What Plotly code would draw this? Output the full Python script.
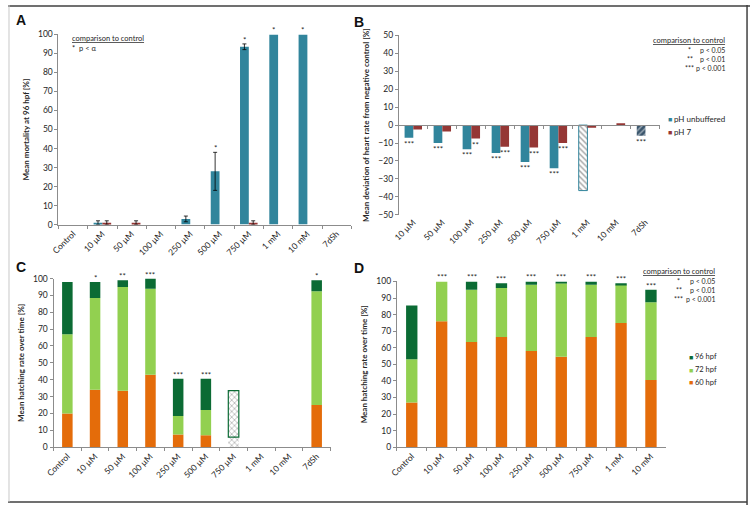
import plotly.graph_objects as go

W, H = 750, 510

# ---------------- data ----------------
catsA = ["Control", "10 µM", "50 µM", "100 µM", "250 µM", "500 µM", "750 µM", "1 mM", "10 mM", "7dSh"]
mortUnbuf = [0, 1, 0, 0, 3, 28, 93.5, 100, 100, 0]
mortUnbufErr = [None, 1, None, None, 1.5, 10, 1.5, None, None, None]
mortPH7 = [0, 1, 1, 0, 0, 0, 1, 0, 0, 0]
mortPH7Err = [None, 1, 1, None, None, None, 1, None, None, None]
sigA = ["", "", "", "", "", "*", "*", "*", "*", ""]

catsB = ["10 µM", "50 µM", "100 µM", "250 µM", "500 µM", "750 µM", "1 mM", "10 mM", "7dSh"]
hrUnbuf = [-7, -10, -13.5, -15.5, -20.5, -24, -36.5, 0, -6]
hrPH7 = [-2.5, -3.5, -7.5, -12, -12.5, -10, -1.5, 1, 0]
sigBUnbuf = ["***", "***", "***", "***", "***", "***", "", "", "***"]
sigBPH7 = ["", "", "**", "***", "***", "***", "", "", ""]

catsC = ["Control", "10 µM", "50 µM", "100 µM", "250 µM", "500 µM", "750 µM", "1 mM", "10 mM", "7dSh"]
hatchC60 = [20, 34, 33.5, 43, 7.5, 7, 0, 0, 0, 25]
hatchC72 = [47, 54.5, 61.5, 51, 11, 15, 6, 0, 0, 67.5]
hatchC96 = [31, 9.5, 4, 6, 22, 18.5, 27.5, 0, 0, 6.5]
sigC = ["", "*", "**", "***", "***", "***", "", "", "", "*"]

catsD = ["Control", "10 µM", "50 µM", "100 µM", "250 µM", "500 µM", "750 µM", "1 mM", "10 mM"]
hatchD60 = [27, 76, 63.5, 66.5, 58, 54.5, 66.5, 75, 40.5]
hatchD72 = [26, 24, 31.5, 29.5, 40, 44.5, 31.5, 23, 47]
hatchD96 = [32.5, 0, 5, 3, 2, 1, 2, 1, 7.5]
sigD = ["", "***", "***", "***", "***", "***", "***", "***", "***"]

# ---------------- style ----------------
FONT = "Lato"
TXT = "#262626"
AXC = "#8c8c8c"
BLUE = "#31859C"
RED = "#953735"
ORANGE = "#E46C0A"
LGREEN = "#92D050"
DGREEN = "#0B6B34"


def px(x):
    return x / W


def py(y):
    return 1 - y / H


domA = dict(x=[px(51), px(347)], y=[py(224), py(30)])
domB = dict(x=[px(395), px(659)], y=[py(214), py(31)])
domC = dict(x=[px(46), px(326)], y=[py(451), py(279)])
domD = dict(x=[px(393), px(665)], y=[py(451), py(282)])

fig = go.Figure()

GW = 0.3    # grouped bar width (category units)
SW = 0.38   # stacked bar width

# ---- A ----
fig.add_trace(go.Bar(x=catsA, y=mortUnbuf, marker=dict(color=BLUE, line=dict(width=0)), xaxis="x", yaxis="y",
                     width=GW, offset=-GW, name="pH unbuffered"))
fig.add_trace(go.Bar(x=catsA, y=mortPH7, marker=dict(color=RED, line=dict(width=0)), xaxis="x", yaxis="y",
                     width=GW, offset=0, name="pH 7"))
# error bars only where an error exists (transparent carrier bars)
for vals, errs, off in [(mortUnbuf, mortUnbufErr, -GW), (mortPH7, mortPH7Err, 0)]:
    idx = [i for i, e in enumerate(errs) if e is not None]
    fig.add_trace(go.Bar(x=[catsA[i] for i in idx], y=[vals[i] for i in idx], xaxis="x", yaxis="y",
                         width=GW, offset=off, marker=dict(color="rgba(0,0,0,0)", line=dict(width=0)),
                         hoverinfo="skip",
                         error_y=dict(type="data", array=[errs[i] for i in idx], color="#000",
                                      thickness=0.8, width=2)))

# ---- B ----
patB_shape = ["", "", "", "", "", "", "\\", "", "/"]
patB_fg = ["#fff"] * 6 + ["#8fc3d3", "#fff", "#9fb6c8"]
patB_bg = [BLUE] * 6 + ["#ffffff", BLUE, "#3b566d"]
lineB_w = [0] * 6 + [1, 0, 0]
fig.add_trace(go.Bar(x=catsB, y=hrUnbuf, xaxis="x2", yaxis="y2", name="pH unbuffered",
                     width=GW, offset=-GW,
                     marker=dict(color=patB_bg, line=dict(color=BLUE, width=lineB_w),
                                 pattern=dict(shape=patB_shape, fgcolor=patB_fg, bgcolor=patB_bg,
                                              size=4, solidity=0.35))))
fig.add_trace(go.Bar(x=catsB, y=hrPH7, marker=dict(color=RED, line=dict(width=0)), xaxis="x2", yaxis="y2",
                     name="pH 7", width=GW, offset=0))
# invisible trace carrying the zero-line category axis
fig.add_trace(go.Scatter(x=catsB, y=[None] * len(catsB), xaxis="x5", yaxis="y2",
                         mode="markers", hoverinfo="skip"))

# ---- C (stacked via explicit base) ----
baseC72 = hatchC60
baseC96 = [a + b for a, b in zip(hatchC60, hatchC72)]
patC_shape = [""] * 6 + ["x", "", "", ""]
fig.add_trace(go.Bar(x=catsC, y=hatchC60, marker=dict(color=ORANGE, line=dict(width=0)), xaxis="x3", yaxis="y3",
                     width=SW, offset=-SW / 2, name="60 hpf"))
fig.add_trace(go.Bar(x=catsC, y=hatchC72, base=baseC72, xaxis="x3", yaxis="y3", name="72 hpf",
                     width=SW, offset=-SW / 2,
                     marker=dict(color=[LGREEN] * 6 + ["#fff"] + [LGREEN] * 3,
                                 line=dict(width=0),
                                 pattern=dict(shape=patC_shape, fgcolor=LGREEN,
                                              bgcolor=[LGREEN] * 6 + ["#fff"] + [LGREEN] * 3,
                                              size=4, solidity=0.3))))
fig.add_trace(go.Bar(x=catsC, y=hatchC96, base=baseC96, xaxis="x3", yaxis="y3", name="96 hpf",
                     width=SW, offset=-SW / 2,
                     marker=dict(color=[DGREEN] * 6 + ["#fff"] + [DGREEN] * 3,
                                 line=dict(color=DGREEN, width=[0] * 6 + [1.2] + [0] * 3),
                                 pattern=dict(shape=patC_shape, fgcolor=DGREEN,
                                              bgcolor=[DGREEN] * 6 + ["#fff"] + [DGREEN] * 3,
                                              size=4, solidity=0.3))))

# ---- D (stacked via explicit base) ----
baseD72 = hatchD60
baseD96 = [a + b for a, b in zip(hatchD60, hatchD72)]
fig.add_trace(go.Bar(x=catsD, y=hatchD60, marker=dict(color=ORANGE, line=dict(width=0)), xaxis="x4", yaxis="y4",
                     width=SW, offset=-SW / 2, name="60 hpf"))
fig.add_trace(go.Bar(x=catsD, y=hatchD72, base=baseD72, marker=dict(color=LGREEN, line=dict(width=0)),
                     xaxis="x4", yaxis="y4", width=SW, offset=-SW / 2, name="72 hpf"))
fig.add_trace(go.Bar(x=catsD, y=hatchD96, base=baseD96, marker=dict(color=DGREEN, line=dict(width=0)),
                     xaxis="x4", yaxis="y4", width=SW, offset=-SW / 2, name="96 hpf"))

tickfont = dict(family=FONT, size=8.5, color=TXT)


def xcat(dom, anchor, n):
    return dict(domain=dom, anchor=anchor, type="category", showline=True, linecolor=AXC,
                linewidth=1, ticks="outside", ticklen=3, tickcolor=AXC, tickson="boundaries",
                tickangle=-45, tickfont=tickfont, showgrid=False, zeroline=False,
                range=[-0.5, n - 0.5], fixedrange=True)


def yval(dom, anchor, rng, title, standoff):
    return dict(domain=dom, anchor=anchor, range=rng, dtick=10, showline=True, linecolor=AXC,
                linewidth=1, ticks="outside", ticklen=3, tickcolor=AXC, tickfont=tickfont,
                showgrid=False, zeroline=False, fixedrange=True,
                title=dict(text="<b>" + title + "</b>", font=dict(family=FONT, size=8, color=TXT),
                           standoff=standoff))


layout = dict(
    width=W, height=H, autosize=False, margin=dict(l=0, r=0, t=0, b=0),
    paper_bgcolor="white", plot_bgcolor="white", barmode="group",
    font=dict(family=FONT, color=TXT), showlegend=False,
    xaxis=dict(xcat(domA["x"], "y", len(catsA))),
    yaxis=yval(domA["y"], "x", [0, 100], "Mean mortality at 96 hpf [%]", 7),
    xaxis2=dict(xcat(domB["x"], "y2", len(catsB)), showline=False, ticks=""),
    yaxis2=yval(domB["y"], "x2", [-50, 50], "Mean deviation of heart rate from negative control [%]", 7),
    xaxis5=dict(xcat(domB["x"], "free", len(catsB)), overlaying="x2",
                position=(domB["y"][0] + domB["y"][1]) / 2, showticklabels=False),
    xaxis3=dict(xcat(domC["x"], "y3", len(catsC))),
    yaxis3=yval(domC["y"], "x3", [0, 100], "Mean hatching rate over time [%]", 7),
    xaxis4=dict(xcat(domD["x"], "y4", len(catsD))),
    yaxis4=yval(domD["y"], "x4", [0, 100], "Mean hatching rate over time [%]", 7),
)
fig.update_layout(**layout)

ann = []
sfont = dict(family=FONT, size=8, color=TXT)

# asterisks A
for i, s in enumerate(sigA):
    if s:
        top = mortUnbuf[i] + (mortUnbufErr[i] or 0)
        ann.append(dict(x=i - GW / 2, y=top, xref="x", yref="y", text=s, showarrow=False,
                        yanchor="bottom", font=sfont, yshift=-3))
# asterisks B
for i, s in enumerate(sigBUnbuf):
    if s:
        ann.append(dict(x=i - GW / 2, y=min(hrUnbuf[i], 0), xref="x2", yref="y2", text=s, showarrow=False,
                        yanchor="top", font=sfont, yshift=1))
for i, s in enumerate(sigBPH7):
    if s:
        ann.append(dict(x=i + GW / 2, y=min(hrPH7[i], 0), xref="x2", yref="y2", text=s, showarrow=False,
                        yanchor="top", font=sfont, yshift=1))
# asterisks C
for i, s in enumerate(sigC):
    if s:
        ann.append(dict(x=i, y=hatchC60[i] + hatchC72[i] + hatchC96[i], xref="x3", yref="y3", text=s,
                        showarrow=False, yanchor="bottom", font=sfont, yshift=-3))
# asterisks D
for i, s in enumerate(sigD):
    if s:
        ann.append(dict(x=i, y=hatchD60[i] + hatchD72[i] + hatchD96[i], xref="x4", yref="y4", text=s,
                        showarrow=False, yanchor="bottom", font=sfont, yshift=-3))


def ptxt(x, y, text, xanchor="left", size=7, color=TXT, family=FONT):
    ann.append(dict(x=px(x), y=py(y), xref="paper", yref="paper", text=text, showarrow=False,
                    xanchor=xanchor, yanchor="middle", font=dict(family=family, size=size, color=color)))


# panel letters
for lx, ly, lt in [(13, 15, "A"), (355, 17, "B"), (13, 267, "C"), (355, 268, "D")]:
    ptxt(lx, ly, "<b>" + lt + "</b>", xanchor="center", size=14, family="Liberation Sans", color="#111")

# comparison notes
ptxt(63, 34, "<u>comparison to control</u>", size=7.5)
ptxt(63, 44, "*  p &lt; α", size=7.5)

ptxt(727, 36, "<u>comparison to control</u>", xanchor="right", size=7.5)
for yy, st, pv in [(46, "*", "p &lt; 0.05"), (55, "**", "p &lt; 0.01"), (64, "***", "p &lt; 0.001")]:
    ptxt(689, yy, st, xanchor="center", size=7)
    ptxt(727, yy, pv, xanchor="right", size=7)

ptxt(717, 272, "<u>comparison to control</u>", xanchor="right", size=7.5)
for yy, st, pv in [(282, "*", "p &lt; 0.05"), (291, "**", "p &lt; 0.01"), (300, "***", "p &lt; 0.001")]:
    ptxt(678, yy, st, xanchor="center", size=7)
    ptxt(717, yy, pv, xanchor="right", size=7)

# legends
for yy, col, lab in [(116, BLUE, "pH unbuffered"), (130, RED, "pH 7")]:
    ptxt(665, yy, "■", size=7, color=col)
    ptxt(671, yy, lab, size=8)
for yy, col, lab in [(359, DGREEN, "96 hpf"), (372, LGREEN, "72 hpf"), (385, ORANGE, "60 hpf")]:
    ptxt(686, yy, "■", size=7, color=col)
    ptxt(692, yy, lab, size=7.5)

fig.update_layout(annotations=ann)

# frame
shapes = [
    dict(type="line", xref="paper", yref="paper", x0=0, x1=1, y0=py(1), y1=py(1), line=dict(color="#404040", width=1.5)),
    dict(type="line", xref="paper", yref="paper", x0=px(747), x1=px(747), y0=0, y1=1, line=dict(color="#404040", width=1.5)),
    dict(type="line", xref="paper", yref="paper", x0=0, x1=px(747), y0=py(507), y1=py(507), line=dict(color="#404040", width=1.5)),
    dict(type="line", xref="paper", yref="paper", x0=px(1), x1=px(1), y0=py(507), y1=1, line=dict(color="#c8c8c8", width=1)),
]
fig.update_layout(shapes=shapes)

fig.write_html("out.html", config={"displayModeBar": False},
               post_script="document.body.style.margin='0';document.body.style.overflow='hidden';")
